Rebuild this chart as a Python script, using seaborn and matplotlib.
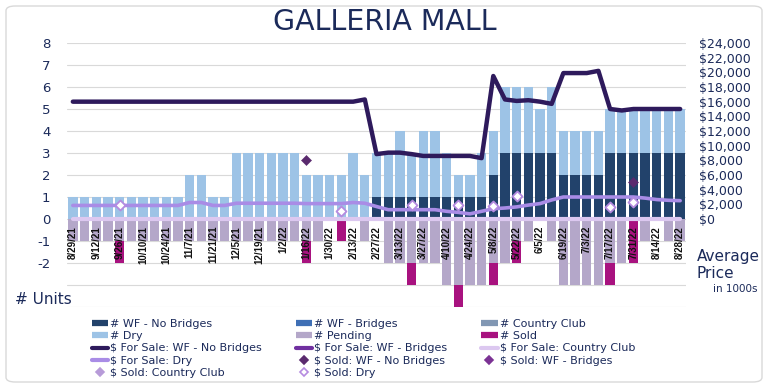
import numpy as np
import pandas as pd
import matplotlib
matplotlib.use("Agg")
import matplotlib.pyplot as plt
import seaborn as sns
from matplotlib.lines import Line2D
from matplotlib.patches import FancyBboxPatch
from matplotlib import font_manager

# ---- data (weekly, 8/29/21 .. 8/28/22) ----
weeks = pd.date_range("2021-08-29", "2022-08-28", freq="7D")
week_keys = [f"{d.month}/{d.day}/{d:%y}" for d in weeks]

tick_labels = ["8/29/21", "9/12/21", "9/26/21", "10/10/21", "10/24/21", "11/7/21",
               "11/21/21", "12/5/21", "12/19/21", "1/2/22", "1/16/22", "1/30/22",
               "2/13/22", "2/27/22", "3/13/22", "3/27/22", "4/10/22", "4/24/22",
               "5/8/22", "5/22/22", "6/5/22", "6/19/22", "7/3/22", "7/17/22",
               "7/31/22", "8/14/22", "8/28/22"]

# unit counts
wf_no_bridges = [0, 0, 0, 0, 0, 0, 0, 0, 0, 0,
                 0, 0, 0, 0, 0, 0, 0, 0, 0, 0,
                 0, 0, 0, 0, 0, 0, 1, 1, 1, 1,
                 1, 1, 1, 1, 1, 1, 2, 3, 3, 3,
                 3, 3, 2, 2, 2, 2, 3, 3, 3, 3,
                 3, 3, 3]
wf_bridges = [0, 0, 0, 0, 0, 0, 0, 0, 0, 0,
              0, 0, 0, 0, 0, 0, 0, 0, 0, 0,
              0, 0, 0, 0, 0, 0, 0, 0, 0, 0,
              0, 0, 0, 0, 0, 0, 0, 0, 0, 0,
              0, 0, 0, 0, 0, 0, 0, 0, 0, 0,
              0, 0, 0]
country_club = [0, 0, 0, 0, 0, 0, 0, 0, 0, 0,
                0, 0, 0, 0, 0, 0, 0, 0, 0, 0,
                0, 0, 0, 0, 0, 0, 0, 0, 0, 0,
                0, 0, 0, 0, 0, 0, 0, 0, 0, 0,
                0, 0, 0, 0, 0, 0, 0, 0, 0, 0,
                0, 0, 0]
dry = [1, 1, 1, 1, 1, 1, 1, 1, 1, 1,
       2, 2, 1, 1, 3, 3, 3, 3, 3, 3,
       2, 2, 2, 2, 3, 2, 2, 2, 3, 2,
       3, 3, 2, 1, 1, 2, 2, 3, 3, 3,
       2, 3, 2, 2, 2, 2, 2, 2, 2, 2,
       2, 2, 2]
pending = [1, 1, 1, 1, 1, 1, 1, 1, 1, 1,
           1, 1, 1, 1, 1, 1, 1, 1, 1, 1,
           1, 1, 0, 0, 0, 1, 0, 2, 2, 2,
           2, 2, 3, 3, 3, 3, 2, 2, 1, 1,
           0, 1, 3, 3, 3, 3, 2, 2, 0, 1,
           0, 1, 1]
sold = [0, 0, 0, 0, 1, 0, 0, 0, 0, 0,
        0, 0, 0, 0, 0, 0, 0, 0, 0, 0,
        1, 0, 0, 1, 0, 0, 0, 0, 0, 1,
        0, 0, 0, 1, 0, 0, 1, 0, 1, 0,
        0, 0, 0, 0, 0, 0, 1, 0, 2, 0,
        0, 0, 0]

# average prices ($)
for_sale_wf_nb = [16000, 16000, 16000, 16000, 16000, 16000, 16000, 16000, 16000, 16000,
                  16000, 16000, 16000, 16000, 16000, 16000, 16000, 16000, 16000, 16000,
                  16000, 16000, 16000, 16000, 16000, 16300, 8850, 9050, 9050, 8850,
                  8600, 8600, 8600, 8600, 8600, 8300, 19500, 16300, 16100, 16200,
                  16000, 15700, 19900, 19900, 19900, 20200, 15000, 14800, 15000, 15000,
                  15000, 15000, 15000]
for_sale_cc = [0, 0, 0, 0, 0, 0, 0, 0, 0, 0,
               0, 0, 0, 0, 0, 0, 0, 0, 0, 0,
               0, 0, 0, 0, 0, 0, 0, 0, 0, 0,
               0, 0, 0, 0, 0, 0, 0, 0, 0, 0,
               0, 0, 0, 0, 0, 0, 0, 0, 0, 0,
               0, 0, 0]
for_sale_dry = [1850, 1850, 1850, 1850, 1850, 1850, 1850, 1850, 1850, 1850,
                2250, 2250, 1850, 1850, 2150, 2150, 2150, 2150, 2150, 2150,
                2100, 2100, 2100, 2100, 2250, 2150, 1700, 1270, 1270, 1270,
                1270, 1270, 1050, 900, 700, 1050, 1400, 1500, 1650, 1900,
                2100, 2600, 3000, 3000, 3000, 3000, 3000, 3000, 3000, 2850,
                2650, 2550, 2500]

sold_wf_nb_dates = ["1/16/22", "7/31/22"]
sold_wf_nb_price = [8000, 5100]
sold_dry_dates = ["9/26/21", "2/6/22", "3/20/22", "4/17/22", "5/8/22", "5/22/22", "7/17/22", "7/31/22"]
sold_dry_price = [1950, 1150, 1850, 1950, 1800, 3150, 1600, 2250]

# ---- colours ----
NAVY_TXT = "#1B2A5A"
C_WF_NB = "#22426B"
C_WF_B = "#3F6FB5"
C_CC = "#8197B3"
C_DRY = "#9DC3E6"
C_PEND = "#B4A7C9"
C_SOLD = "#A8127F"
L_WF_NB = "#2E1A5C"
L_WF_B = "#7030A0"
L_CC = "#DCC8F0"
L_DRY = "#A98CE6"
M_WF_NB = "#5A2A6E"
M_WF_B = "#7B3294"
M_CC = "#B79BD8"
M_DRY = "#B58BE0"

sns.set_style("white")
plt.rcParams["font.family"] = ["DejaVu Sans"]
avail = {f.name for f in font_manager.fontManager.ttflist}
date_font = "Liberation Sans Narrow" if "Liberation Sans Narrow" in avail else "Liberation Sans"

df = pd.DataFrame({
    "week": week_keys,
    "wf_nb": wf_no_bridges, "wf_b": wf_bridges, "cc": country_club, "dry": dry,
    "pending": pending, "sold": sold,
})
# overlapping bars give the stacked look
df["top_wf_b"] = df.wf_nb + df.wf_b
df["top_cc"] = df.top_wf_b + df.cc
df["top_dry"] = df.top_cc + df.dry
df["neg_pend"] = -df.pending
df["neg_sold"] = -(df.pending + df.sold)

fig = plt.figure(figsize=(7.69, 3.88), dpi=100)
ax = fig.add_axes([67 / 769, 1 - 307 / 388, (686 - 67) / 769, (307 - 43) / 388])

bar_kw = dict(data=df, x="week", order=week_keys, width=0.8, saturation=1,
              linewidth=0, ax=ax, errorbar=None)
sns.barplot(y="top_dry", color=C_DRY, **bar_kw)
sns.barplot(y="top_cc", color=C_CC, **bar_kw)
sns.barplot(y="top_wf_b", color=C_WF_B, **bar_kw)
sns.barplot(y="wf_nb", color=C_WF_NB, **bar_kw)
sns.barplot(y="neg_sold", color=C_SOLD, **bar_kw)
sns.barplot(y="neg_pend", color=C_PEND, **bar_kw)

ax.set_xlim(-0.5, len(week_keys) - 0.5)
ax.set_ylim(-4, 8)
ax.set_yticks(range(-4, 9))
ax.set_yticklabels(["" if v < -2 else str(v) for v in range(-4, 9)])
ax.grid(axis="y", color="#D9D9D9", lw=0.8)
ax.set_axisbelow(True)
ax.set_xlabel("")
ax.set_ylabel("")
for s in ax.spines.values():
    s.set_visible(False)
ax.tick_params(axis="y", length=0, pad=12, labelsize=9.5, labelcolor=NAVY_TXT)
ax.set_xticks([week_keys.index(t) for t in tick_labels])
ax.set_xticklabels(tick_labels)
ax.tick_params(axis="x", length=0, labelbottom=False)

# price axis
pos = np.arange(len(week_keys))
ax2 = ax.twinx()
sns.lineplot(x=pos, y=for_sale_cc, color=L_CC, lw=3, ax=ax2)
sns.lineplot(x=pos, y=for_sale_dry, color=L_DRY, lw=2.6, ax=ax2)
sns.lineplot(x=pos, y=for_sale_wf_nb, color=L_WF_NB, lw=3.2, ax=ax2)
sns.scatterplot(x=[week_keys.index(d) for d in sold_wf_nb_dates], y=sold_wf_nb_price,
                marker="D", s=26, color=M_WF_NB, edgecolor=M_WF_NB, ax=ax2, zorder=5)
sns.scatterplot(x=[week_keys.index(d) for d in sold_dry_dates], y=sold_dry_price,
                marker="D", s=26, color="white", edgecolor=M_DRY, linewidth=1.3, ax=ax2, zorder=5)
ax2.set_ylim(-12000, 24000)
ax2.set_yticks(range(0, 24001, 2000))
ax2.set_yticklabels([f"${v:,}" for v in range(0, 24001, 2000)])
ax2.tick_params(axis="y", length=0, pad=9, labelsize=9, labelcolor=NAVY_TXT)
for s in ax2.spines.values():
    s.set_visible(False)
ax2.set_ylabel("")

# date labels sit just under the zero line
ax2.xaxis.set_visible(True)
ax2.spines["bottom"].set_position(("data", 0))
ax2.tick_params(axis="x", length=0, pad=5, labelbottom=True, labelrotation=90)
for lab in ax2.get_xticklabels():
    lab.set_fontfamily(date_font)
    lab.set_fontweight("bold")
    lab.set_fontsize(7)
    lab.set_color("#111111")

# text around the plot
fig.text(0.5, 1 - 22 / 388, "GALLERIA MALL", ha="center", va="center",
         fontsize=20.5, color=NAVY_TXT)
fig.text(15 / 769, 1 - 300 / 388, "# Units", ha="left", va="center", fontsize=11, color=NAVY_TXT)
fig.text(697 / 769, 1 - 257 / 388, "Average", ha="left", va="center", fontsize=11, color=NAVY_TXT)
fig.text(697 / 769, 1 - 274 / 388, "Price", ha="left", va="center", fontsize=11, color=NAVY_TXT)
fig.text(713 / 769, 1 - 289 / 388, "in 1000s", ha="left", va="center", fontsize=7.5, color=NAVY_TXT)

# legend, re-ordered so it reads row by row
def bar_h(c):
    return Line2D([], [], color=c, lw=4.5, solid_capstyle="butt")

def line_h(c):
    return Line2D([], [], color=c, lw=3, solid_capstyle="round")

def mark_h(c, face):
    return Line2D([], [], ls="", marker="D", markersize=4, markerfacecolor=face,
                  markeredgecolor=c, markeredgewidth=1.2)

entries = [
    (bar_h(C_WF_NB), "# WF - No Bridges"), (bar_h(C_DRY), "# Dry"),
    (line_h(L_WF_NB), "$ For Sale: WF - No Bridges"), (line_h(L_DRY), "$ For Sale: Dry"),
    (mark_h(M_CC, M_CC), "$ Sold: Country Club"),
    (bar_h(C_WF_B), "# WF - Bridges"), (bar_h(C_PEND), "# Pending"),
    (line_h(L_WF_B), "$ For Sale: WF - Bridges"), (mark_h(M_WF_NB, M_WF_NB), "$ Sold: WF - No Bridges"),
    (mark_h(M_DRY, "white"), "$ Sold: Dry"),
    (bar_h(C_CC), "# Country Club"), (bar_h(C_SOLD), "# Sold"),
    (line_h(L_CC), "$ For Sale: Country Club"), (mark_h(M_WF_B, M_WF_B), "$ Sold: WF - Bridges"),
]
fig.legend([e[0] for e in entries], [e[1] for e in entries], loc="upper left",
           bbox_to_anchor=(86 / 769, 1 - 313 / 388), ncol=3, frameon=False,
           fontsize=8, labelspacing=0.22, handlelength=1.5, handletextpad=0.2,
           columnspacing=3.0, borderpad=0, labelcolor=NAVY_TXT)

fig.add_artist(FancyBboxPatch((6 / 769, 6 / 388), 756 / 769, 376 / 388,
                              boxstyle="round,pad=0,rounding_size=0.012",
                              transform=fig.transFigure, fill=False,
                              edgecolor="#D9D9D9", lw=1))

fig.savefig("out.png", dpi=100)
